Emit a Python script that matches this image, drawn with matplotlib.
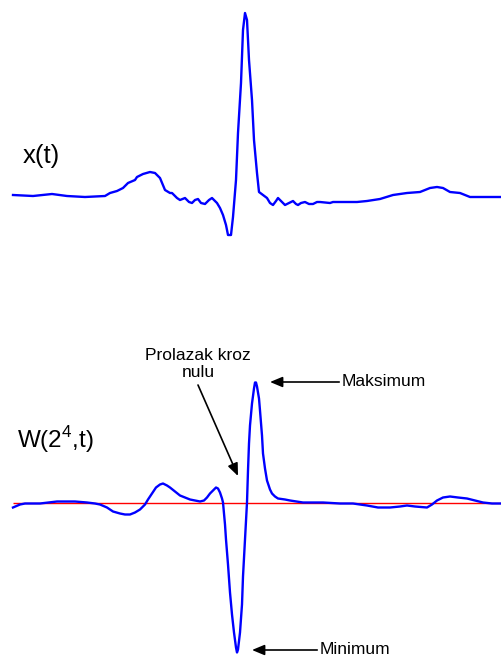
"""
EKG signal x(t) i njegova wavelet transformacija W(2^4,t)
"""

import matplotlib
matplotlib.use("Agg")
import matplotlib.pyplot as plt

plt.rcParams['font.family'] = ['Liberation Sans', 'DejaVu Sans']
plt.rcParams['mathtext.fontset'] = 'custom'
plt.rcParams['mathtext.rm'] = 'Liberation Sans'

# signal x(t) - uzorci (t) i amplituda
t_x = [1, 21, 40, 55, 73, 93, 98, 105, 111, 116, 123, 125, 131, 138, 143, 148,
       153, 158, 160, 165, 168, 173, 177, 180, 183, 186, 189, 193, 197, 200,
       203, 205, 208, 211, 214, 216, 219, 221, 224, 226, 229, 231, 233, 235,
       237, 240, 242, 245, 247, 251, 255, 258, 261, 264, 266, 269, 273, 277,
       281, 284, 286, 289, 293, 297, 301, 305, 308, 318, 321, 345, 355, 368,
       381, 395, 408, 418, 425, 431, 438, 448, 458, 471, 490]
x_val = [0.00, -0.01, 0.01, -0.01, -0.02, -0.01, 0.02, 0.04, 0.07, 0.12, 0.15,
         0.18, 0.21, 0.23, 0.22, 0.17, 0.05, 0.02, 0.02, -0.03, -0.05, -0.03,
         -0.07, -0.08, -0.05, -0.04, -0.08, -0.09, -0.05, -0.03, -0.06, -0.08,
         -0.13, -0.20, -0.30, -0.40, -0.40, -0.22, 0.15, 0.62, 1.12, 1.65, 1.82,
         1.75, 1.35, 0.95, 0.55, 0.22, 0.03, 0.00, -0.03, -0.08, -0.10, -0.06,
         -0.03, -0.06, -0.10, -0.08, -0.06, -0.09, -0.10, -0.08, -0.07, -0.09,
         -0.09, -0.07, -0.07, -0.08, -0.07, -0.07, -0.06, -0.04, 0.00, 0.02,
         0.03, 0.07, 0.08, 0.07, 0.03, 0.02, -0.02, -0.02, -0.02]

# wavelet transformacija W(2^4,t)
t_w = [1, 8, 13, 28, 45, 63, 75, 83, 88, 95, 101, 108, 113, 118, 123, 128, 133,
       136, 140, 144, 148, 151, 155, 158, 163, 168, 173, 178, 183, 188, 192,
       195, 198, 201, 204, 206, 208, 210, 211, 213, 214, 216, 218, 220, 222,
       224, 225, 226, 228, 230, 231, 233, 235, 236, 237, 238, 240, 242, 243,
       244, 245, 247, 248, 250, 251, 253, 255, 258, 260, 263, 266, 273, 278,
       291, 311, 328, 341, 355, 366, 378, 388, 395, 403, 415, 420, 425, 431,
       438, 446, 455, 463, 471, 480, 490]
w_val = [-0.05, -0.02, -0.01, -0.01, 0.01, 0.01, 0.00, -0.01, -0.02, -0.05,
         -0.09, -0.11, -0.12, -0.12, -0.10, -0.07, -0.02, 0.03, 0.09, 0.15,
         0.18, 0.19, 0.17, 0.15, 0.11, 0.07, 0.05, 0.03, 0.02, 0.01, 0.02,
         0.05, 0.09, 0.12, 0.15, 0.14, 0.10, 0.04, 0.00, -0.22, -0.37, -0.62,
         -0.90, -1.12, -1.30, -1.45, -1.50, -1.47, -1.30, -1.02, -0.74, -0.37,
         0.00, 0.32, 0.59, 0.77, 0.99, 1.14, 1.20, 1.20, 1.16, 1.04, 0.92,
         0.67, 0.49, 0.34, 0.22, 0.13, 0.09, 0.06, 0.04, 0.03, 0.02, 0.00,
         0.00, -0.01, -0.01, -0.03, -0.05, -0.05, -0.04, -0.03, -0.04, -0.05,
         -0.02, 0.02, 0.05, 0.06, 0.05, 0.04, 0.02, 0.00, -0.01, -0.01]

# polozaji oznaka (t, amplituda)
t_max, w_max = 258, 1.205
t_min, w_min = 240, -1.475
t_zero, w_zero = 226, 0.265

fig = plt.figure(figsize=(5.02, 6.58), dpi=100)

# gornji grafik: x(t)
ax1 = fig.add_axes([0, 1 - 260 / 658, 1, 260 / 658])
ax1.plot(t_x, x_val, color='#0000ff', lw=1.7)
ax1.set_xlim(-12, 490)
ax1.set_ylim(-0.65, 1.95)
ax1.axis('off')
ax1.text(11, 0.32, 'x(t)', fontsize=18.5, va='baseline', ha='left')

# donji grafik: W(2^4,t)
ax2 = fig.add_axes([0, 0, 1, 328 / 658])
ax2.hlines(0, t_w[0], t_w[-1], color='red', lw=1.0)
ax2.plot(t_w, w_val, color='#0000ff', lw=1.7)
ax2.set_xlim(-12, 490)
ax2.set_ylim(-1.555, 1.725)
ax2.axis('off')
ax2.text(5, 0.545, r'W(2$^{4}$,t)', fontsize=17.5, va='baseline', ha='left')

arrow = dict(arrowstyle='-|>,head_length=0.6,head_width=0.25', color='black',
             lw=1.2, shrinkA=0, shrinkB=0)

ax2.annotate('Maksimum', xy=(t_max, w_max), xytext=(330, w_max),
             fontsize=12.5, va='center', ha='left', arrowprops=arrow)
ax2.annotate('Minimum', xy=(t_min, w_min), xytext=(308, w_min),
             fontsize=12.5, va='center', ha='left', arrowprops=arrow,
             annotation_clip=False)

ax2.text(186, 1.385, 'Prolazak kroz\nnulu', fontsize=12.5, ha='center',
         va='center', linespacing=1.1)
ax2.annotate('', xy=(t_zero, w_zero), xytext=(186, 1.175),
             arrowprops=dict(arrow, mutation_scale=12.5))

fig.savefig('out.png', dpi=100)
